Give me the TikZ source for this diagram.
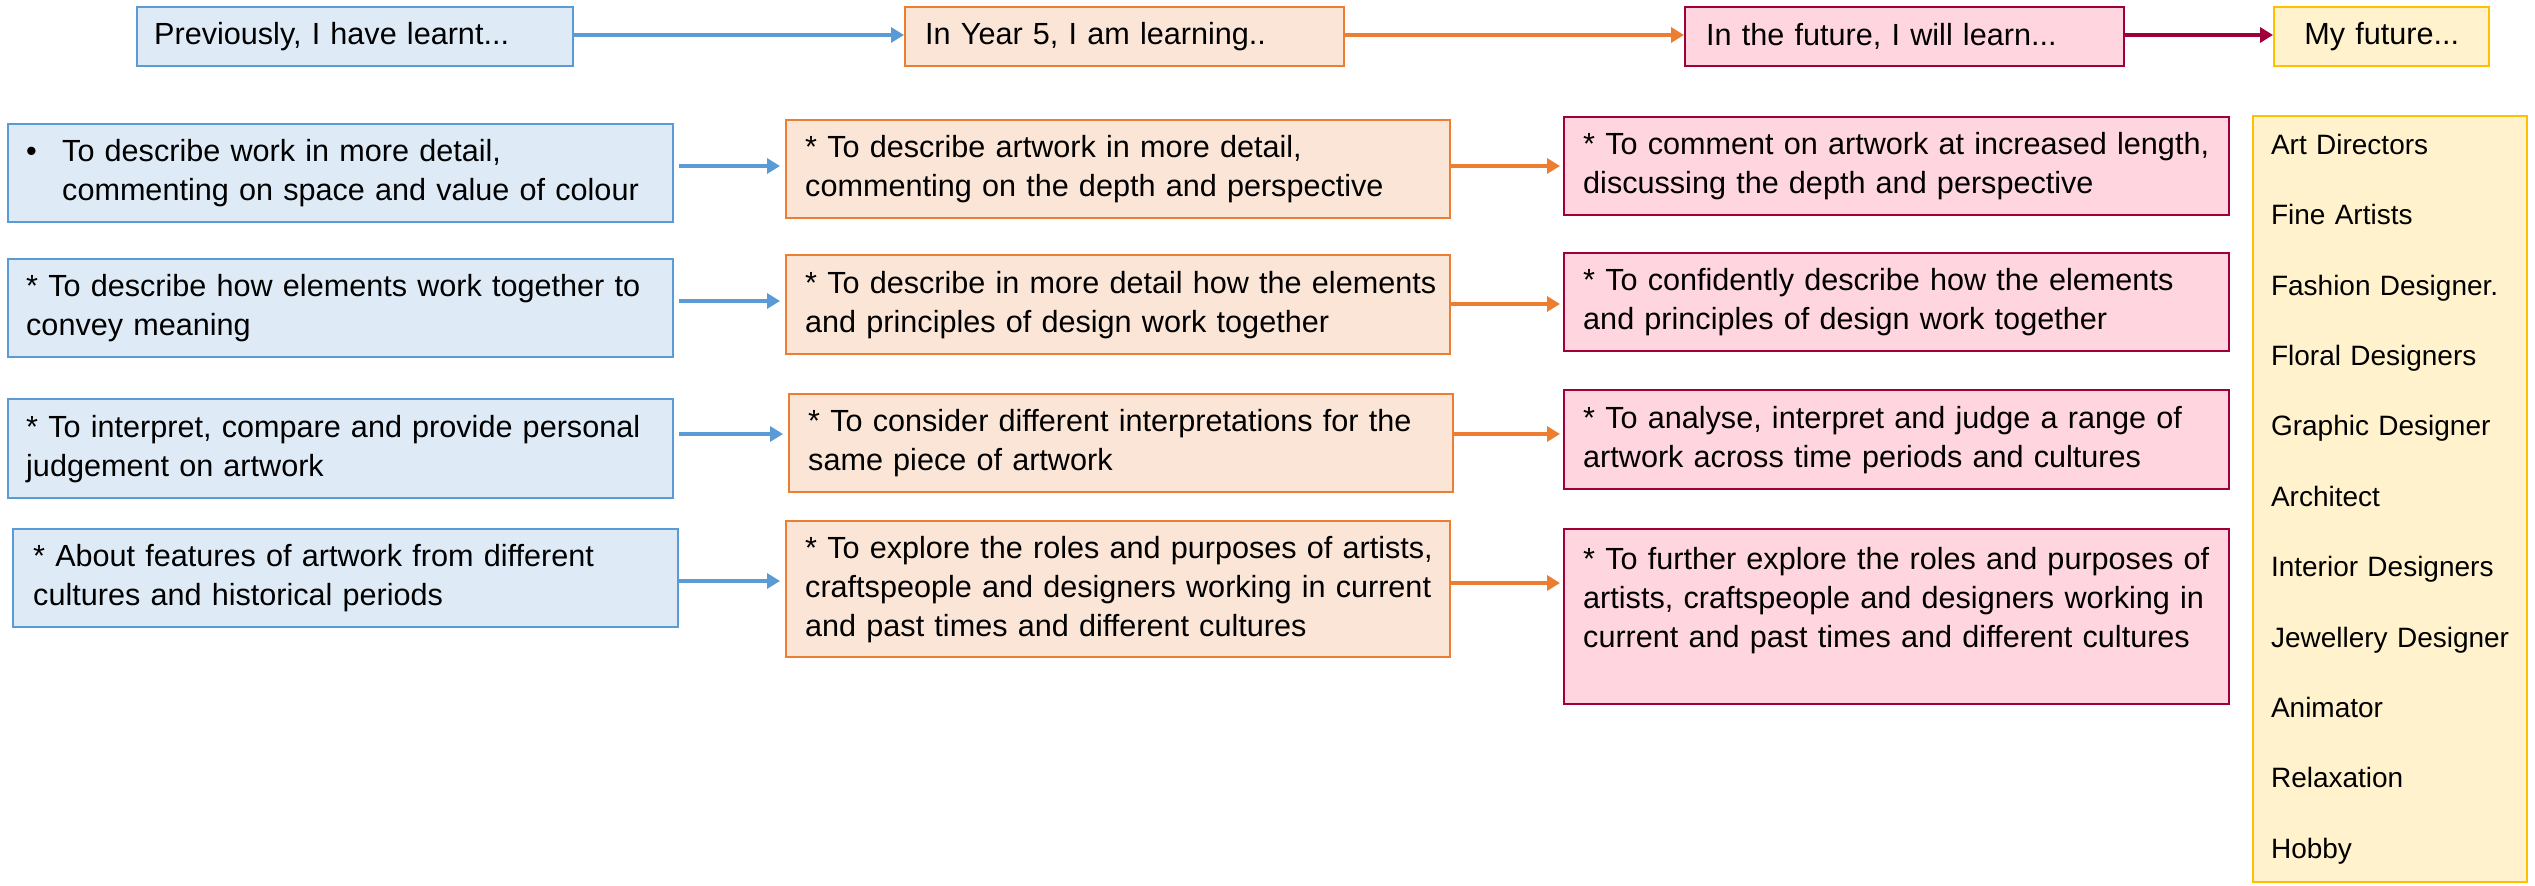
\documentclass[tikz,border=0pt]{standalone}
\usepackage{fontspec}
\setmainfont{Liberation Sans}
\usetikzlibrary{arrows.meta}
\definecolor{bluefill}{HTML}{DEEBF7}
\definecolor{blueline}{HTML}{5B9BD5}
\definecolor{orfill}{HTML}{FBE5D6}
\definecolor{orline}{HTML}{ED7D31}
\definecolor{pkfill}{HTML}{FFD6DF}
\definecolor{pkline}{HTML}{A0003A}
\definecolor{yefill}{HTML}{FFF2CC}
\definecolor{yeline}{HTML}{FFC000}
\newcommand{\oneline}[1]{\mbox{#1}}
\begin{document}
\begin{tikzpicture}[x=0.5pt,y=-0.5pt,
  base/.style={draw, line width=1.2pt, anchor=north west, inner ysep=0pt, align=left,
    font=\fontsize{15.3}{19.5}\selectfont},
  sz/.style 2 args={minimum width=#1*0.5pt, minimum height=#2*0.5pt},
  bluebox/.style={base, fill=bluefill, draw=blueline, inner xsep=9pt, text width=314.5pt},
  orbox/.style={base, fill=orfill, draw=orline, inner xsep=9.5pt, text width=313pt},
  pkbox/.style={base, fill=pkfill, draw=pkline, inner xsep=9.5pt, text width=313.5pt},
  ybox/.style={base, fill=yefill, draw=yeline, line width=1pt, inner xsep=9pt, text width=119pt,
    font=\fontsize{14}{35.2}\selectfont},
  arr/.style={line width=1.6pt, -{Triangle[length=6.5pt,width=7.5pt]}},
  barrow/.style={arr, draw=blueline, fill=blueline},
  oarrow/.style={arr, draw=orline, fill=orline},
  parrow/.style={arr, draw=pkline, fill=pkline}
]
\useasboundingbox (0,0) rectangle (2535,886);
\fill[white] (0,0) rectangle (2535,886);

% headers
\node[bluebox, sz={436}{59}, inner xsep=8.5pt, text width=201pt] (hb) at (136,6) {\oneline{Previously, I have learnt...}};
\node[orbox, sz={439}{59}, inner xsep=10pt, text width=199.5pt] (ho) at (904,6) {\oneline{In Year 5, I am learning..}};
\node[pkbox, sz={439}{59}, inner xsep=10.5pt, text width=198.5pt] (hp) at (1684,6) {\oneline{In the future, I will learn...}};
\node[ybox, sz={215}{59}, line width=1.2pt, inner xsep=5pt, text width=97.5pt, align=center,
  font=\fontsize{15.3}{19.5}\selectfont] (hy) at (2273,6) {\oneline{My future...}};

\coordinate (h0) at (0,35);
\draw[barrow] (hb.east |- h0) -- (ho.west |- h0);
\draw[oarrow] (ho.east |- h0) -- (hp.west |- h0);
\draw[parrow] (hp.east |- h0) -- (hy.west |- h0);

% row 1
\node[bluebox, sz={665}{98}] (b1) at (7,123)
  {\oneline{\makebox[18pt][l]{\textbullet}To describe work in more detail,}\\\oneline{\hspace*{18pt}commenting on space and value of colour}};
\node[orbox, sz={664}{98}] (o1) at (785,119)
  {\oneline{* To describe artwork in more detail,}\\\oneline{commenting on the depth and perspective}};
\node[pkbox, sz={665}{98}] (p1) at (1563,116)
  {\oneline{* To comment on artwork at increased length,}\\\oneline{discussing the depth and perspective}};

% row 2
\node[bluebox, sz={665}{98}] (b2) at (7,258)
  {\oneline{* To describe how elements work together to}\\\oneline{convey meaning}};
\node[orbox, sz={664}{99}] (o2) at (785,254)
  {\oneline{* To describe in more detail how the elements}\\\oneline{and principles of design work together}};
\node[pkbox, sz={665}{98}] (p2) at (1563,252)
  {\oneline{* To confidently describe how the elements}\\\oneline{and principles of design work together}};

% row 3
\node[bluebox, sz={665}{99}] (b3) at (7,398)
  {\oneline{* To interpret, compare and provide personal}\\\oneline{judgement on artwork}};
\node[orbox, sz={664}{98}] (o3) at (788,393)
  {\oneline{* To consider different interpretations for the}\\\oneline{same piece of artwork}};
\node[pkbox, sz={665}{99}] (p3) at (1563,389)
  {\oneline{* To analyse, interpret and judge a range of}\\\oneline{artwork across time periods and cultures}};

% row 4
\node[bluebox, sz={665}{98}, inner xsep=10pt, text width=312.5pt] (b4) at (12,528)
  {\oneline{* About features of artwork from different}\\\oneline{cultures and historical periods}};
\node[orbox, sz={664}{136}] (o4) at (785,520)
  {\oneline{* To explore the roles and purposes of artists,}\\\oneline{craftspeople and designers working in current}\\\oneline{and past times and different cultures}};
\node[pkbox, sz={665}{175}] (p4) at (1563,528)
  {\oneline{* To further explore the roles and purposes of}\\\oneline{artists, craftspeople and designers working in}\\\oneline{current and past times and different cultures}\\~};

% careers column
\node[ybox, sz={274}{766}] (yc) at (2252,115)
  {\oneline{Art Directors}\\\oneline{Fine Artists}\\\oneline{Fashion Designer.}\\\oneline{Floral Designers}\\\oneline{Graphic Designer}\\\oneline{Architect}\\\oneline{Interior Designers}\\\oneline{Jewellery Designer}\\\oneline{Animator}\\\oneline{Relaxation}\\\oneline{Hobby}};

% connectors
\coordinate (ba1) at (0,166);
\coordinate (ba2) at (0,301);
\coordinate (ba3) at (0,434);
\coordinate (ba4) at (0,581);
\coordinate (oa1) at (0,166);
\coordinate (oa2) at (0,304);
\coordinate (oa3) at (0,434);
\coordinate (oa4) at (0,583);
\draw[barrow, shorten <=2.5pt, shorten >=2.5pt] (b1.east |- ba1) -- (o1.west |- ba1);
\draw[barrow, shorten <=2.5pt, shorten >=2.5pt] (b2.east |- ba2) -- (o2.west |- ba2);
\draw[barrow, shorten <=2.5pt, shorten >=2.5pt] (b3.east |- ba3) -- (o3.west |- ba3);
\draw[barrow, shorten >=2.5pt] (b4.east |- ba4) -- (o4.west |- ba4);
\draw[oarrow, shorten >=1.5pt] (o1.east |- oa1) -- (p1.west |- oa1);
\draw[oarrow, shorten >=1.5pt] (o2.east |- oa2) -- (p2.west |- oa2);
\draw[oarrow, shorten >=1.5pt] (o3.east |- oa3) -- (p3.west |- oa3);
\draw[oarrow, shorten >=1.5pt] (o4.east |- oa4) -- (p4.west |- oa4);
\end{tikzpicture}
\end{document}
